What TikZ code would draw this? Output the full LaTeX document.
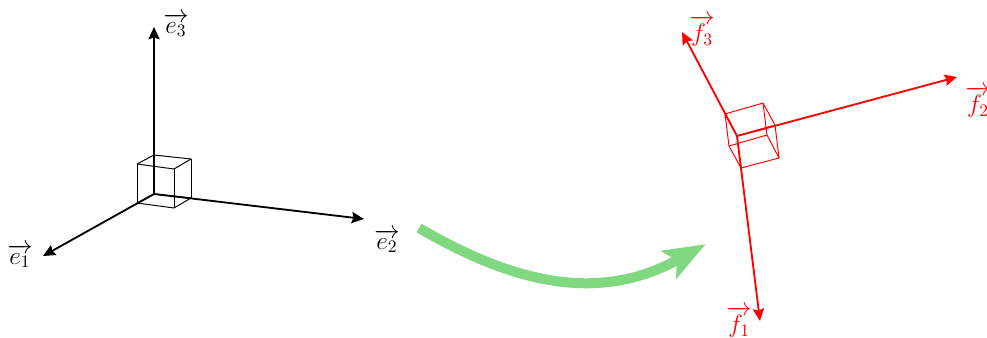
\documentclass[tikz,border=0pt]{standalone}
\usepackage{amsmath,amssymb}
\usepackage{xcolor}
\usepackage{tikz}
\usetikzlibrary{arrows.meta,calc}
\definecolor{ArrowGreen}{HTML}{80D980}
\definecolor{FrameRed}{HTML}{FF0000}

\begin{document}
\begin{tikzpicture}[font=\Large, >={Stealth[length=7pt,width=6.4pt,inset=1pt]}, x=.02cm, y=-.02cm]
\tikzset{axis/.style={->,line width=1.05pt}, edge/.style={line width=.55pt}, flow/.style={-{Stealth[length=24pt,width=17.5pt,inset=5pt]},draw=ArrowGreen,line width=5.7pt}}
\useasboundingbox (0,0) rectangle (987,338);
% first frame
\coordinate (eo) at (154,194);
\coordinate (ea) at (43,256);
\coordinate (eb) at (364,219);
\coordinate (ec) at (154,27);
\node (elabela) at (20,256) {$\overrightarrow{e_1}$};
\node (elabelb) at (387,241) {$\overrightarrow{e_2}$};
\node (elabelc) at (176,25) {$\overrightarrow{e_3}$};
\foreach \name/\x/\y in {ao/154/194,a1/137/203,a2/191/198,a3/154/155,a12/174/208,a13/137/164,a23/191/159,a123/174/169} {
  \coordinate (\name) at (\x,\y);
}
\foreach \from/\to in {ao/a1,ao/a2,ao/a3,a1/a12,a1/a13,a2/a12,a2/a23,a3/a13,a3/a23,a12/a123,a13/a123,a23/a123} {
  \draw[edge] (\from) -- (\to);
}
\draw[axis] (eo) -- (ea);
\draw[axis] (eo) -- (eb);
\draw[axis] (eo) -- (ec);
% second frame
\coordinate (fo) at (737,136);
\coordinate (fa) at (760,321);
\coordinate (fb) at (957,77);
\coordinate (fc) at (682,32);
\node[text=FrameRed] (flabela) at (739,322) {$\overrightarrow{f_1}$};
\node[text=FrameRed] (flabelb) at (978,102) {$\overrightarrow{f_2}$};
\node[text=FrameRed] (flabelc) at (702,31) {$\overrightarrow{f_3}$};
\foreach \name/\x/\y in {bo/737/136,b1/741/168,b2/775/125,b3/725/114,b12/779/158,b13/729/146,b23/763/103,b123/767/135} {
  \coordinate (\name) at (\x,\y);
}
\foreach \from/\to in {bo/b1,bo/b2,bo/b3,b1/b12,b1/b13,b2/b12,b2/b23,b3/b13,b3/b23,b12/b123,b13/b123,b23/b123} {
  \draw[edge,color=FrameRed] (\from) -- (\to);
}
\draw[axis,color=FrameRed] (fo) -- (fa);
\draw[axis,color=FrameRed] (fo) -- (fb);
\draw[axis,color=FrameRed] (fo) -- (fc);
% map between the frames
\coordinate (start) at (419,228);
\coordinate (end) at (706,244);
\draw[flow] (start) .. controls (515,284) and (600,303) .. (end);
\end{tikzpicture}
\end{document}
